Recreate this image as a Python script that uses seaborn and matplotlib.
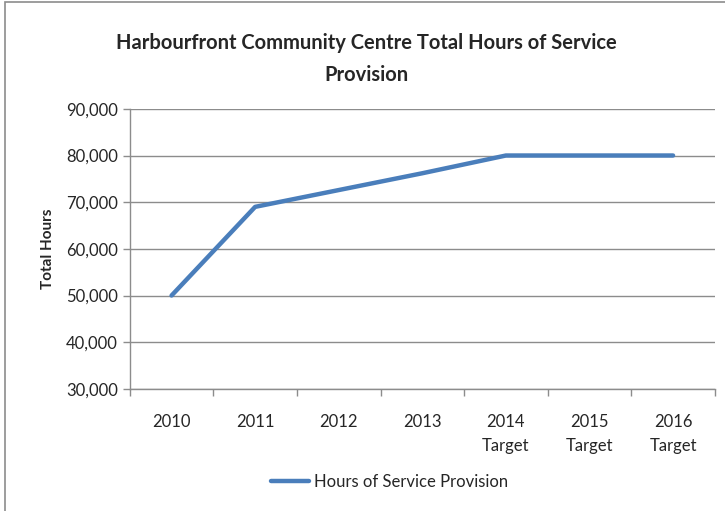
import pandas as pd
import matplotlib.pyplot as plt
import seaborn as sns
from matplotlib.patches import Rectangle
from matplotlib.ticker import FuncFormatter, MultipleLocator, FixedLocator

years = ['2010', '2011', '2012', '2013', '2014\nTarget', '2015\nTarget', '2016\nTarget']
hours = [50000, 69000, 72600, 76200, 80000, 80000, 80000]

df = pd.DataFrame({'year': years, 'hours': hours})

sns.set_style('white')
plt.rcParams['font.family'] = ['Lato', 'DejaVu Sans']

fig = plt.figure(figsize=(7.25, 5.11), dpi=100)
ax = fig.add_axes([0.179, 0.239, 0.807, 0.548])

sns.lineplot(data=df, x='year', y='hours', color='#4A7EBB', linewidth=3.2,
             label='Hours of Service Provision', ax=ax, solid_capstyle='round')

ax.set_ylim(30000, 90000)
ax.set_xlim(-0.5, len(years) - 0.5)
ax.yaxis.set_major_locator(MultipleLocator(10000))
ax.yaxis.set_major_formatter(FuncFormatter(lambda v, p: f'{int(v):,}'))
ax.grid(axis='y', color='#8C8C8C', linewidth=1)
ax.set_axisbelow(True)

# category ticks between labels, like the spreadsheet chart
ax.xaxis.set_minor_locator(FixedLocator([i - 0.5 for i in range(len(years) + 1)]))
ax.tick_params(axis='x', which='major', length=0, labelsize=12, pad=18)
ax.tick_params(axis='x', which='minor', length=5, color='#8C8C8C', width=1)
ax.tick_params(axis='y', which='major', length=5, color='#8C8C8C', width=1, labelsize=12)
ax.xaxis.set_ticks_position('bottom')
ax.yaxis.set_ticks_position('left')
for lbl in ax.get_xticklabels():
    lbl.set_linespacing(1.65)

for s in ['top', 'right']:
    ax.spines[s].set_visible(False)
for s in ['left', 'bottom']:
    ax.spines[s].set_color('#8C8C8C')
    ax.spines[s].set_linewidth(1)

ax.set_xlabel('')
ax.set_ylabel('Total Hours', fontsize=11, fontweight='bold', labelpad=8)

fig.suptitle('Harbourfront Community Centre Total Hours of Service\nProvision',
             x=0.505, y=0.935, fontsize=14.5, fontweight='bold', linespacing=1.75)

ax.legend(loc='upper center', bbox_to_anchor=(0.444, -0.25), frameon=False,
          fontsize=12, handlelength=2.3, handletextpad=0.3)

fig.patches.append(Rectangle((0.007, -0.1), 1.1, 1.096, transform=fig.transFigure,
                             fill=False, edgecolor='#8C8C8C', linewidth=1.2))

fig.savefig('out.png', dpi=100)
